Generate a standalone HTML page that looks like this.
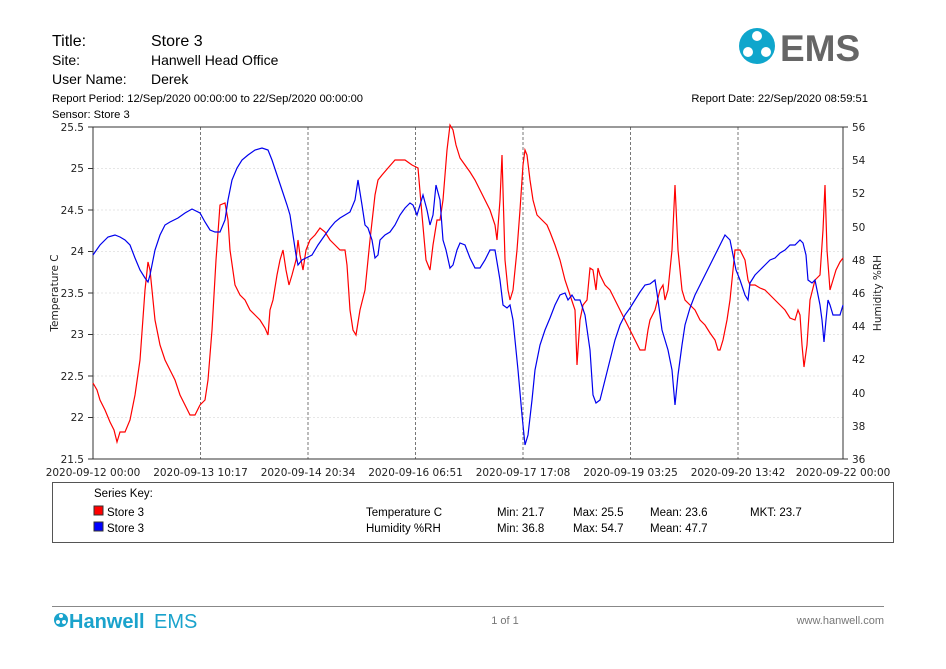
<!DOCTYPE html>
<html><head><meta charset="utf-8"><style>
body{margin:0;background:#fff;width:946px;height:669px;overflow:hidden}
svg{display:block}
text{font-family:"Liberation Sans",Arial,sans-serif;fill:#000}
.ax{font-family:"DejaVu Sans",sans-serif;font-size:10.5px;fill:#222}
</style></head><body>
<svg width="946" height="669" viewBox="0 0 946 669">
<text x="52" y="46" font-size="16">Title:</text><text x="151" y="46" font-size="16">Store 3</text>
<text x="52" y="65" font-size="14">Site:</text><text x="151" y="65" font-size="14">Hanwell Head Office</text>
<text x="52" y="84" font-size="14">User Name:</text><text x="151" y="84" font-size="14">Derek</text>
<text x="52" y="102" font-size="11.2">Report Period: 12/Sep/2020 00:00:00 to 22/Sep/2020 00:00:00</text>
<text x="52" y="118" font-size="11.2">Sensor: Store 3</text>
<text x="868" y="102" font-size="11.2" text-anchor="end">Report Date: 22/Sep/2020 08:59:51</text>
<!-- logo -->
<circle cx="757" cy="46" r="18" fill="#0fa6cc"/>
<circle cx="757" cy="36" r="5" fill="#fff"/><circle cx="748" cy="52" r="5" fill="#fff"/><circle cx="766" cy="52" r="5" fill="#fff"/>
<text x="780" y="61" font-size="37" font-weight="bold" style="fill:#666">EMS</text>
<!-- grid -->
<g stroke="#e6e6e6" stroke-width="1" stroke-dasharray="2,2">
<line x1="93" x2="843" y1="168.5" y2="168.5"/><line x1="93" x2="843" y1="210" y2="210"/><line x1="93" x2="843" y1="251.5" y2="251.5"/><line x1="93" x2="843" y1="293" y2="293"/><line x1="93" x2="843" y1="334.5" y2="334.5"/><line x1="93" x2="843" y1="376" y2="376"/><line x1="93" x2="843" y1="417.5" y2="417.5"/>
</g>
<g stroke="#777" stroke-width="1" stroke-dasharray="3,2">
<line x1="200.5" x2="200.5" y1="127" y2="459"/><line x1="308" x2="308" y1="127" y2="459"/><line x1="415.5" x2="415.5" y1="127" y2="459"/><line x1="523" x2="523" y1="127" y2="459"/><line x1="630.5" x2="630.5" y1="127" y2="459"/><line x1="738" x2="738" y1="127" y2="459"/>
</g>
<rect x="93" y="127" width="750" height="332" fill="none" stroke="#333" stroke-width="1"/>
<g stroke="#333"><line x1="88" x2="93" y1="127" y2="127"/><line x1="88" x2="93" y1="168.5" y2="168.5"/><line x1="88" x2="93" y1="210" y2="210"/><line x1="88" x2="93" y1="251.5" y2="251.5"/><line x1="88" x2="93" y1="293" y2="293"/><line x1="88" x2="93" y1="334.5" y2="334.5"/><line x1="88" x2="93" y1="376" y2="376"/><line x1="88" x2="93" y1="417.5" y2="417.5"/><line x1="88" x2="93" y1="459" y2="459"/>
<line x1="843" x2="848" y1="127" y2="127"/><line x1="843" x2="848" y1="459" y2="459"/></g>
<g text-anchor="end">
<text class="ax" x="84" y="131">25.5</text><text class="ax" x="84" y="172">25</text><text class="ax" x="84" y="214">24.5</text><text class="ax" x="84" y="255">24</text><text class="ax" x="84" y="297">23.5</text><text class="ax" x="84" y="338">23</text><text class="ax" x="84" y="380">22.5</text><text class="ax" x="84" y="421">22</text><text class="ax" x="84" y="463">21.5</text>
</g>
<g>
<text class="ax" x="852" y="131">56</text><text class="ax" x="852" y="164">54</text><text class="ax" x="852" y="197">52</text><text class="ax" x="852" y="231">50</text><text class="ax" x="852" y="264">48</text><text class="ax" x="852" y="297">46</text><text class="ax" x="852" y="330">44</text><text class="ax" x="852" y="363">42</text><text class="ax" x="852" y="397">40</text><text class="ax" x="852" y="430">38</text><text class="ax" x="852" y="463">36</text>
</g>
<text class="ax" transform="translate(58,293) rotate(-90)" text-anchor="middle">Temperature C</text>
<text class="ax" transform="translate(881,293) rotate(-90)" text-anchor="middle">Humidity %RH</text>
<g text-anchor="middle">
<text class="ax" x="93" y="476">2020-09-12 00:00</text><text class="ax" x="200.5" y="476">2020-09-13 10:17</text><text class="ax" x="308" y="476">2020-09-14 20:34</text><text class="ax" x="415.5" y="476">2020-09-16 06:51</text><text class="ax" x="523" y="476">2020-09-17 17:08</text><text class="ax" x="630.5" y="476">2020-09-19 03:25</text><text class="ax" x="738" y="476">2020-09-20 13:42</text><text class="ax" x="843" y="476">2020-09-22 00:00</text>
</g>
<polyline fill="none" stroke="#ff0000" stroke-width="1.2" points="93,383 97,390 100,400 105,410 110,422 114,430 117,442 120,432 125,432 130,420 135,395 140,360 145,290 148,262 150,270 155,320 160,345 165,360 170,370 175,380 180,395 185,405 190,415 195,415 200,405 205,400 208,380 212,330 216,260 220,205 225,203 228,220 230,250 235,285 240,295 245,300 250,310 255,315 260,320 265,328 268,335 270,310 273,300 277,275 280,260 283,250 286,270 289,285 292,275 296,260 298,240 300,255 303,270 306,250 310,240 315,235 320,228 325,232 330,240 335,245 340,250 345,250 347,265 350,310 353,330 356,335 360,310 365,290 370,240 375,195 378,180 382,175 388,168 395,160 405,160 412,165 418,168 422,215 426,260 430,270 433,245 437,220 440,220 443,200 447,150 450,125 453,130 456,145 460,158 465,165 470,172 475,180 480,190 485,200 490,210 495,225 497,240 500,200 502,155 505,260 508,290 510,300 513,290 517,250 520,210 523,165 525,150 527,155 530,180 533,200 537,215 542,220 547,225 550,232 555,245 560,260 565,280 570,295 575,310 577,365 580,320 583,305 587,300 590,268 593,270 596,290 598,268 600,275 605,285 610,290 615,300 620,310 625,320 630,330 635,340 640,350 645,350 648,330 650,320 655,310 660,290 663,285 665,300 668,290 672,250 675,185 678,250 682,290 685,300 690,305 695,310 700,320 705,325 710,333 715,340 718,350 720,350 723,340 727,320 730,300 733,270 735,250 740,250 745,260 748,280 750,285 755,285 760,288 765,290 770,295 775,300 780,305 785,310 790,318 795,320 798,310 800,315 802,345 804,367 807,345 810,300 815,280 820,275 823,230 825,185 827,250 830,290 833,280 836,270 840,262 843,258"/>
<polyline fill="none" stroke="#0000ee" stroke-width="1.2" points="93,255 100,245 108,237 115,235 120,237 125,240 130,245 135,258 140,270 145,278 148,282 150,275 155,250 160,235 165,225 170,222 178,218 185,213 192,209 200,213 205,222 210,230 215,232 220,232 225,220 228,200 232,180 237,168 242,160 248,155 255,150 262,148 268,150 272,160 277,175 282,190 287,205 290,215 293,235 296,255 298,265 302,260 306,258 312,255 318,245 325,235 330,228 335,222 340,218 345,215 350,212 355,200 358,180 362,205 365,225 368,228 372,240 375,258 378,255 380,240 385,235 390,232 395,225 400,215 405,208 410,203 413,205 417,215 420,205 423,195 427,210 430,225 433,215 436,185 440,200 443,240 446,250 450,268 453,265 457,250 460,243 465,245 470,258 475,268 480,268 485,260 490,250 495,250 500,280 503,305 507,308 510,305 513,320 518,370 522,415 525,445 528,435 532,400 535,370 540,345 545,330 550,318 555,305 560,295 565,293 568,300 572,295 575,300 580,300 585,315 590,350 593,395 596,403 600,400 605,380 610,360 615,340 620,325 625,315 630,308 635,300 640,292 645,285 650,284 655,280 658,300 662,330 668,350 672,370 675,405 678,375 682,345 685,325 690,308 695,295 700,285 705,275 710,265 715,255 720,245 725,235 730,240 733,255 736,270 740,280 745,295 748,300 750,283 755,275 760,270 765,265 770,260 775,258 780,253 785,250 790,245 795,245 800,240 803,243 806,255 808,280 812,283 815,280 818,295 820,305 822,320 824,342 826,320 828,300 830,305 833,315 836,315 840,315 843,305"/>
<!-- legend -->
<rect x="52.5" y="482.5" width="841" height="60" fill="none" stroke="#555" stroke-width="1"/>
<text x="94" y="497" font-size="11.5">Series Key:</text>
<rect x="94" y="506" width="9" height="9" fill="#ff0000" stroke="#333"/>
<rect x="94" y="522" width="9" height="9" fill="#0000ff" stroke="#333"/>
<text x="107" y="516" font-size="11.5">Store 3</text><text x="107" y="532" font-size="11.5">Store 3</text>
<text x="366" y="516" font-size="11.5">Temperature C</text><text x="366" y="532" font-size="11.5">Humidity %RH</text>
<text x="497" y="516" font-size="11.5">Min: 21.7</text><text x="497" y="532" font-size="11.5">Min: 36.8</text>
<text x="573" y="516" font-size="11.5">Max: 25.5</text><text x="573" y="532" font-size="11.5">Max: 54.7</text>
<text x="650" y="516" font-size="11.5">Mean: 23.6</text><text x="650" y="532" font-size="11.5">Mean: 47.7</text>
<text x="750" y="516" font-size="11.5">MKT: 23.7</text>
<!-- footer -->
<line x1="52" x2="884" y1="606.5" y2="606.5" stroke="#888" stroke-width="1"/>
<circle cx="61" cy="620" r="7" fill="#1aa3cc"/>
<circle cx="61" cy="616" r="2" fill="#fff"/><circle cx="58" cy="622" r="2" fill="#fff"/><circle cx="64" cy="622" r="2" fill="#fff"/>
<text x="69" y="628" font-size="20" font-weight="bold" style="fill:#1aa3cc">Hanwell</text>
<text x="154" y="628" font-size="20" style="fill:#1aa3cc">EMS</text>
<text x="505" y="624" font-size="11" text-anchor="middle" style="fill:#777">1 of 1</text>
<text x="884" y="624" font-size="11" text-anchor="end" style="fill:#777">www.hanwell.com</text>
</svg>
</body></html>
